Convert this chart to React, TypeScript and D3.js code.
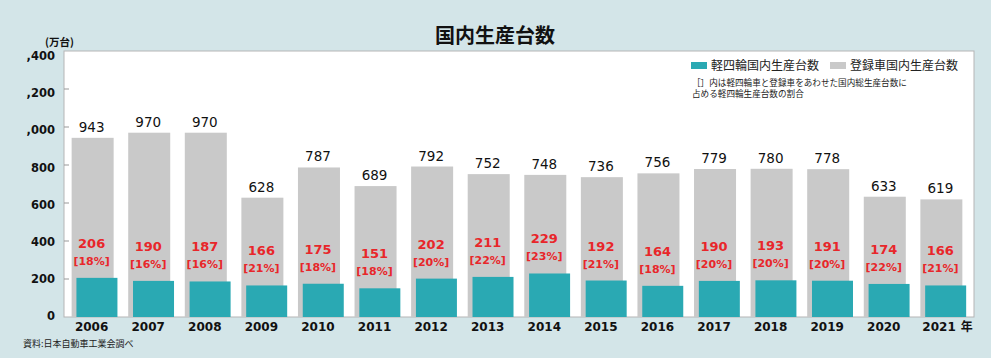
import React from "react";
import * as d3 from "d3";

const years = ["2006","2007","2008","2009","2010","2011","2012","2013","2014","2015","2016","2017","2018","2019","2020","2021"];
const totalValues = [943,970,970,628,787,689,792,752,748,736,756,779,780,778,633,619];
const keiValues = [206,190,187,166,175,151,202,211,229,192,164,190,193,191,174,166];
const keiShares = [18,16,16,21,18,18,20,22,23,21,18,20,20,20,22,21];
const yTicks = [0,200,400,600,800,1000,1200,1400];
const legendLabels = ["軽四輪国内生産台数","登録車国内生産台数"];

const W = 991, H = 358;
const plot = { left: 64, right: 974, top: 51, bottom: 317 };
const BG = "#d3e5e8";
const TEAL = "#2aa9b3";
const GRAY = "#c9c9c9";
const RED = "#e8262a";
const JP = "'Noto Sans CJK JP', 'Noto Sans', sans-serif";
const NUM = "'DejaVu Sans', sans-serif";

export default function App() {
  const x = d3.scaleBand<string>().domain(years).range([plot.left, plot.right]).paddingInner(0.187).paddingOuter(0.135);
  const y = d3.scaleLinear().domain([0, 1400]).range([plot.bottom, plot.top]);
  const yLabel = d3.scaleLinear().domain([0, 1400]).range([316, 56]);
  const fmt = d3.format(",");
  const grayW = 42, tealW = 41, tealOff = 4.8;

  return (
    <svg width={W} height={H} style={{ position: "absolute", left: 0, top: 0 }} xmlns="http://www.w3.org/2000/svg">
      <defs>
        <clipPath id="tickclip"><rect x={26.5} y={0} width={60} height={H} /></clipPath>
      </defs>
      <rect x={0} y={0} width={W} height={H} fill={BG} />
      <text x={495} y={43} textAnchor="middle" fontFamily={JP} fontWeight={700} fontSize={20} fill="#111">国内生産台数</text>
      <text x={45} y={46} fontFamily={JP} fontWeight={700} fontSize={10.5} fill="#111">(万台)</text>

      <rect x={plot.left} y={plot.top} width={plot.right - plot.left} height={plot.bottom - plot.top} fill="#fff" stroke="#b5b5b5" strokeWidth={1} />

      <g clipPath="url(#tickclip)">
        {yTicks.map((t) => (
          <text key={t} x={55} y={yLabel(t)} dy="0.36em" textAnchor="end" fontFamily={NUM} fontWeight={700} fontSize={11.5} fill="#111">{fmt(t)}</text>
        ))}
      </g>
      {yTicks.slice(1, -1).map((t) => (
        <line key={t} x1={plot.left} x2={plot.left + 5} y1={y(t)} y2={y(t)} stroke="#999" strokeWidth={1} />
      ))}

      {years.map((yr, i) => {
        const bx = x(yr)!;
        const cx = bx + grayW / 2 - 1;
        const tealTop = y(keiValues[i]);
        return (
          <g key={yr}>
            <rect x={bx} y={y(totalValues[i])} width={grayW} height={plot.bottom - y(totalValues[i])} fill={GRAY} />
            <rect x={bx + tealOff} y={tealTop} width={tealW} height={plot.bottom - tealTop} fill={TEAL} />
            <text x={cx} y={y(totalValues[i]) - 6} textAnchor="middle" fontFamily={NUM} fontSize={13.5} fill="#111">{totalValues[i]}</text>
            <text x={cx} y={tealTop - 30} textAnchor="middle" fontFamily={NUM} fontWeight={700} fontSize={13} fill={RED}>{keiValues[i]}</text>
            <text x={cx} y={tealTop - 13} textAnchor="middle" fontFamily={NUM} fontWeight={700} fontSize={11} fill={RED}>[{keiShares[i]}%]</text>
            {i < years.length - 1 ? (
              <text x={cx} y={331} textAnchor="middle" fontFamily={NUM} fontWeight={700} fontSize={12} fill="#111">{yr}</text>
            ) : (
              <text x={cx - 18} y={331} textAnchor="start" fontFamily={NUM} fontWeight={700} fontSize={12} fill="#111">
                {yr}<tspan dx={5} fontFamily={JP} fontSize={12}>年</tspan>
              </text>
            )}
          </g>
        );
      })}

      <rect x={691} y={62} width={16} height={7} fill={TEAL} />
      <text x={711} y={70} fontFamily={JP} fontSize={12} fill="#222">{legendLabels[0]}</text>
      <rect x={830} y={62} width={16} height={7} fill={GRAY} />
      <text x={850} y={70} fontFamily={JP} fontSize={12} fill="#222">{legendLabels[1]}</text>
      <text x={692} y={86} fontFamily={JP} fontSize={8.6} fill="#222">［］内は軽四輪車と登録車をあわせた国内総生産台数に</text>
      <text x={692} y={97} fontFamily={JP} fontSize={8.6} fill="#222">占める軽四輪生産台数の割合</text>

      <text x={23} y={347} fontFamily={JP} fontSize={9} fill="#222">資料:日本自動車工業会調べ</text>
    </svg>
  );
}
